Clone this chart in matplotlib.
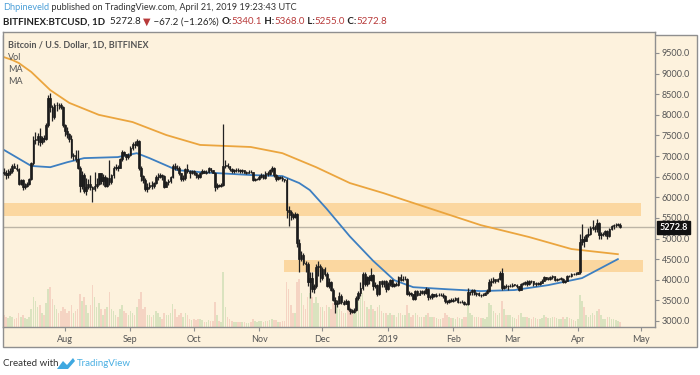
import numpy as np
import pandas as pd
import matplotlib
matplotlib.use("Agg")
import matplotlib.pyplot as plt
import matplotlib.dates as mdates
from matplotlib.patches import Rectangle, Polygon

W, H = 700, 375

# daily BTCUSD, 2018-07-03 .. 2019-04-21 (one row per month)
closes = [
    6600, 6530, 6600, 6630, 6760, 6720, 6680, 6330, 6420, 6260, 6270, 6320, 6450, 6830, 7400, 7400, 7480, 7350, 7440, 7420, 7750, 8420, 8180, 7950, 8240, 8250, 8230, 8200, 7750,
    7600, 7540, 7420, 7010, 7030, 6940, 6720, 6280, 6540, 6150, 6240, 6320, 6250, 6190, 6270, 6320, 6580, 6400, 6500, 6270, 6480, 6370, 6530, 6700, 6730, 6710, 6920, 7090, 7040, 6980, 7030,
    7190, 7290, 7260, 7370, 6700, 6520, 6420, 6190, 6250, 6300, 6280, 6340, 6490, 6500, 6530, 6510, 6260, 6360, 6390, 6500, 6760, 6720, 6710, 6590, 6440, 6470, 6680, 6640, 6600, 6630,
    6590, 6530, 6500, 6590, 6640, 6600, 6610, 6700, 6660, 6600, 6240, 6290, 6280, 6300, 6760, 6790, 6750, 6680, 6640, 6650, 6670, 6650, 6640, 6650, 6600, 6600, 6620, 6610, 6420, 6440, 6450,
    6500, 6530, 6480, 6600, 6570, 6650, 6700, 6550, 6450, 6500, 6480, 6440, 6420, 5700, 5650, 5560, 5530, 5590, 4900, 4500, 4600, 4400, 4380, 3950, 4050, 3780, 3850, 4300, 4330, 4050,
    4250, 4150, 3850, 3950, 3760, 3500, 3400, 3430, 3600, 3460, 3420, 3490, 3280, 3240, 3220, 3260, 3560, 3680, 3800, 4150, 3900, 4060, 4000, 4120, 3850, 3870, 3650, 3960, 3890, 3980, 3770,
    3900, 4000, 3850, 3900, 3870, 4060, 4000, 4020, 4030, 3660, 3680, 3650, 3540, 3720, 3640, 3690, 3720, 3670, 3780, 3580, 3590, 3650, 3600, 3640, 3630, 3640, 3610, 3480, 3450, 3510, 3490,
    3510, 3560, 3450, 3460, 3470, 3410, 3400, 3700, 3700, 3760, 3650, 3670, 3640, 3620, 3640, 3680, 3720, 3950, 3960, 4030, 3960, 4010, 4160, 3800, 3860, 3840, 3850, 3860,
    3880, 3880, 3840, 3760, 3900, 3920, 3940, 3900, 3980, 3960, 3890, 3920, 3900, 3930, 3980, 4060, 4020, 4020, 4060, 4090, 4000, 4020, 4030, 4030, 3950, 3980, 4100, 4090, 4150, 4140, 4150,
    4180, 4920, 4990, 4950, 5080, 5100, 5250, 5290, 5220, 5370, 5080, 5100, 5100, 5180, 5060, 5240, 5300, 5330, 5340, 5340, 5272.8,
]
first_open = 6620

highs = [
    6700, 6650, 6680, 6700, 6800, 6820, 6800, 6700, 6450, 6440, 6350, 6360, 6470, 6850, 7480, 7580, 7550, 7690, 7480, 7500, 7800, 8490, 8530, 8250, 8280, 8300, 8290, 8280, 8220,
    7780, 7700, 7560, 7500, 7080, 7150, 7150, 6750, 6630, 6580, 6480, 6440, 6550, 6270, 6620, 6480, 6600, 6600, 6560, 6550, 6500, 6900, 6560, 6750, 6810, 6780, 6950, 7150, 7130, 7060, 7080,
    7250, 7340, 7360, 7410, 7400, 6760, 6550, 6480, 6350, 6380, 6390, 6370, 6540, 6600, 6580, 6560, 6530, 6400, 6450, 6520, 6800, 6830, 6780, 6750, 6600, 6550, 6700, 6800, 6660, 6650,
    6660, 6620, 6560, 6620, 6680, 6650, 6650, 6740, 6710, 6670, 6610, 6350, 6330, 6350, 7780, 6900, 6820, 6770, 6700, 6690, 6720, 6700, 6690, 6690, 6660, 6640, 6650, 6650, 6620, 6470, 6480,
    6540, 6580, 6560, 6640, 6640, 6680, 6750, 6740, 6560, 6520, 6520, 6510, 6450, 6480, 5800, 5700, 5610, 5640, 5620, 4980, 4700, 4650, 4450, 4420, 4200, 4200, 3900, 4390, 4450, 4380,
    4320, 4300, 4180, 4050, 3970, 3800, 3580, 3500, 3700, 3650, 3500, 3540, 3500, 3320, 3280, 3310, 3600, 3720, 3950, 4200, 4200, 4080, 4120, 4280, 4150, 3950, 3900, 3970, 4000, 4000, 4000,
    3950, 4020, 4010, 3920, 3950, 4100, 4150, 4100, 4080, 4050, 3720, 3700, 3660, 3760, 3760, 3750, 3750, 3740, 3820, 3810, 3630, 3680, 3660, 3680, 3690, 3680, 3680, 3630, 3500, 3540, 3550,
    3550, 3580, 3570, 3490, 3500, 3490, 3440, 3800, 3730, 3780, 3770, 3700, 3700, 3660, 3680, 3700, 3770, 4020, 4050, 4060, 4030, 4040, 4220, 4280, 3880, 3890, 3880, 3900,
    3920, 3900, 3900, 3860, 3920, 3950, 3980, 3990, 4000, 4000, 3970, 3940, 3940, 3960, 4010, 4100, 4070, 4060, 4080, 4120, 4100, 4040, 4050, 4060, 4040, 4000, 4120, 4120, 4170, 4170, 4180,
    4200, 5100, 5350, 5070, 5100, 5250, 5300, 5460, 5320, 5480, 5400, 5150, 5160, 5200, 5200, 5250, 5330, 5360, 5380, 5370, 5368,
]

lows = [
    6550, 6450, 6480, 6530, 6580, 6700, 6630, 6300, 6300, 6180, 6200, 6240, 6300, 6420, 6780, 7300, 7280, 7250, 7300, 7350, 7400, 7700, 8080, 7850, 7900, 8100, 8150, 8130, 7700,
    7480, 7450, 7350, 6950, 6900, 6850, 6680, 6140, 6200, 6100, 6060, 6200, 6180, 5880, 6150, 6230, 6300, 6330, 6300, 6240, 6250, 6300, 6320, 6480, 6650, 6640, 6700, 6880, 6990, 6900, 6930,
    7000, 7150, 7200, 7240, 6650, 6400, 6350, 6150, 6120, 6200, 6200, 6220, 6320, 6420, 6460, 6430, 6230, 6240, 6300, 6350, 6480, 6650, 6650, 6550, 6400, 6400, 6420, 6600, 6480, 6560,
    6540, 6480, 6440, 6460, 6560, 6580, 6560, 6580, 6620, 6580, 6150, 6200, 6250, 6250, 6280, 6700, 6700, 6640, 6580, 6600, 6620, 6610, 6600, 6600, 6580, 6570, 6580, 6580, 6400, 6390, 6410,
    6430, 6460, 6450, 6440, 6520, 6530, 6620, 6500, 6400, 6420, 6440, 6390, 6380, 5500, 5300, 5450, 5480, 5500, 4800, 4200, 4450, 4350, 4200, 3850, 3550, 3700, 3680, 3800, 4100, 3950,
    4000, 4100, 3830, 3800, 3730, 3480, 3200, 3350, 3420, 3400, 3380, 3410, 3260, 3180, 3200, 3200, 3240, 3500, 3600, 3750, 3850, 3850, 3900, 3980, 3760, 3800, 3600, 3620, 3830, 3830, 3700,
    3740, 3850, 3820, 3820, 3840, 3840, 3970, 3960, 3990, 3620, 3600, 3600, 3520, 3520, 3600, 3620, 3660, 3640, 3650, 3520, 3540, 3530, 3580, 3590, 3600, 3600, 3560, 3430, 3400, 3430, 3460,
    3470, 3490, 3430, 3430, 3440, 3380, 3380, 3390, 3640, 3640, 3630, 3600, 3600, 3590, 3600, 3620, 3650, 3700, 3850, 3920, 3910, 3940, 3990, 3750, 3770, 3790, 3760, 3820,
    3830, 3840, 3800, 3720, 3740, 3870, 3880, 3860, 3880, 3920, 3860, 3860, 3870, 3870, 3910, 3960, 4000, 3990, 4000, 4030, 3980, 3980, 3990, 4000, 3920, 3930, 3960, 4060, 4070, 4110, 4120,
    4140, 4150, 4850, 4800, 4930, 5030, 5080, 5200, 5150, 5170, 5000, 5000, 5060, 5050, 5000, 5040, 5200, 5230, 5280, 5300, 5255,
]

volumes = [
    12, 10, 9, 11, 10, 8, 9, 14, 10, 12, 9, 8, 10, 18, 30, 26, 20, 22, 14, 12, 24, 38, 40, 28, 22, 18, 14, 16, 20,
    18, 14, 16, 22, 14, 16, 18, 33, 26, 30, 22, 14, 22, 42, 30, 20, 24, 18, 12, 18, 20, 35, 18, 16, 12, 10, 18, 22, 16, 14, 12,
    16, 14, 12, 20, 28, 35, 18, 20, 12, 12, 10, 12, 16, 14, 10, 8, 14, 12, 12, 14, 23, 18, 10, 12, 14, 10, 14, 12, 8, 7,
    8, 7, 8, 8, 7, 5, 5, 7, 6, 6, 25, 12, 6, 5, 55, 20, 10, 8, 6, 5, 5, 5, 5, 5, 5, 4, 4, 5, 8, 6, 5,
    6, 6, 5, 6, 6, 7, 8, 7, 7, 5, 5, 6, 6, 45, 38, 22, 14, 14, 45, 48, 34, 22, 18, 30, 34, 30, 24, 30, 24, 20,
    20, 16, 22, 20, 18, 24, 30, 22, 18, 16, 14, 14, 18, 20, 16, 14, 26, 28, 30, 34, 26, 20, 18, 22, 18, 16, 20, 22, 16, 14, 14,
    12, 14, 12, 12, 10, 14, 14, 12, 12, 22, 14, 10, 12, 14, 12, 10, 10, 10, 12, 14, 10, 10, 10, 9, 8, 8, 9, 14, 12, 10, 9,
    9, 8, 10, 9, 8, 10, 10, 22, 14, 12, 10, 10, 10, 9, 9, 8, 10, 24, 22, 16, 14, 12, 14, 26, 18, 12, 12, 12,
    10, 9, 8, 12, 14, 10, 10, 10, 9, 8, 10, 9, 8, 8, 9, 12, 10, 9, 9, 10, 10, 9, 8, 8, 10, 8, 10, 9, 8, 7, 6,
    8, 32, 26, 20, 12, 10, 12, 14, 12, 16, 18, 12, 8, 8, 10, 10, 8, 8, 7, 6, 5,
]

# moving averages
ma200_dates = ["2018-07-03", "2018-07-07", "2018-07-10", "2018-07-16", "2018-07-25", "2018-08-03",
               "2018-08-17", "2018-09-02", "2018-09-18", "2018-10-04", "2018-10-28", "2018-11-12",
               "2018-11-28", "2018-12-14", "2018-12-30", "2019-01-09", "2019-02-14", "2019-03-09",
               "2019-03-29", "2019-04-20"]
ma200_vals = [9400, 9330, 9260, 9040, 8600, 8290, 8000, 7825, 7510, 7270, 7220, 7070,
              6730, 6345, 6100, 5930, 5325, 5035, 4745, 4620]

ma50_dates = ["2018-07-03", "2018-07-16", "2018-07-25", "2018-08-02", "2018-08-10", "2018-08-26",
              "2018-09-04", "2018-09-10", "2018-09-23", "2018-10-04", "2018-10-28", "2018-11-12",
              "2018-11-20", "2018-11-25", "2018-12-03", "2018-12-14", "2018-12-25", "2019-01-04",
              "2019-01-13", "2019-01-29", "2019-02-14", "2019-03-02", "2019-03-18", "2019-04-03",
              "2019-04-20"]
ma50_vals = [7150, 6760, 6730, 6850, 6950, 6975, 7070, 6950, 6660, 6610, 6540, 6515,
             6345, 6175, 5720, 5050, 4460, 3990, 3820, 3770, 3725, 3750, 3870, 4040, 4500]

# zones
zone_hi = (5550, 5850, "2018-07-01", "2019-05-01")
zone_lo = (4200, 4470, "2018-11-13", "2019-05-02")

last_price = 5272.8
month_ticks = ["2018-08-01", "2018-09-01", "2018-10-01", "2018-11-01", "2018-12-01",
               "2019-01-01", "2019-02-01", "2019-03-01", "2019-04-01", "2019-05-01"]
month_labels = ["Aug", "Sep", "Oct", "Nov", "Dec", "2019", "Feb", "Mar", "Apr", "May"]

dates = pd.date_range("2018-07-03", "2019-04-21", freq="D")
opens = [first_open] + closes[:-1]

CREAM = "#fdf2dd"
BAND = "#fbd7a0"
FRAME = "#8f8f8f"
TXT = "#555555"
FONT = ["Lato", "DejaVu Sans"]

fig = plt.figure(figsize=(7, 3.75), dpi=100)
fig.patch.set_facecolor("white")


def fx(px):
    return px / W


def fy(py):
    return 1 - py / H


# outer chart frame (price column + time row share cream)
fig.add_artist(Rectangle((fx(3), fy(347)), fx(694), (344 - 32) / H, transform=fig.transFigure,
                         facecolor=CREAM, edgecolor=FRAME, lw=1, zorder=0))

rect = [fx(3), fy(327), fx(652), (327 - 32) / H]
axv = fig.add_axes(rect)
ax = fig.add_axes(rect, sharex=axv)
axv.set_facecolor(CREAM)
ax.patch.set_alpha(0)

x = mdates.date2num(dates)
x0 = mdates.date2num(pd.Timestamp("2018-08-01"))
ax.set_xlim(x0 - 29.4, x0 + 279.6)
ax.set_ylim(2854, 10009)

# volume
vcol = ["#cfdfb6" if c >= o else "#f3cbbb" for o, c in zip(opens, closes)]
axv.bar(x, volumes, width=0.75, color=vcol, alpha=0.75)
axv.set_ylim(0, 295)
axv.set_yticks([])
axv.tick_params(axis="x", which="both", bottom=False, labelbottom=False)
for s in axv.spines.values():
    s.set_visible(False)

# zones
for lo, hi, d0, d1 in (zone_hi, zone_lo):
    a = mdates.date2num(pd.Timestamp(d0))
    b = mdates.date2num(pd.Timestamp(d1))
    ax.add_patch(Rectangle((a, lo), b - a, hi - lo, facecolor=BAND, edgecolor="none", zorder=1))

ax.axhline(last_price, color="#bdb5a6", lw=1, zorder=1.5)

# moving averages
ax.plot(mdates.date2num(pd.to_datetime(ma200_dates)), ma200_vals, color="#eba53e", lw=1.3, zorder=2)
ax.plot(mdates.date2num(pd.to_datetime(ma50_dates)), ma50_vals, color="#3d7fc1", lw=1.3, zorder=2)

# candles
ax.vlines(x, lows, highs, color="#222222", lw=0.9, zorder=3)
body_lo = np.minimum(opens, closes)
body_h = np.maximum(np.abs(np.array(closes) - np.array(opens)), 8)
ax.bar(x, body_h, bottom=body_lo, width=0.8, color="#1c1c1c", edgecolor="#1c1c1c", lw=0.5, zorder=4)

# axes styling
ax.yaxis.tick_right()
ax.set_yticks(np.arange(3000, 9501, 500))
ax.set_yticklabels([f"{v:.1f}" for v in np.arange(3000, 9501, 500)])
ax.set_xticks(mdates.date2num(pd.to_datetime(month_ticks)))
ax.set_xticklabels(month_labels)
ax.tick_params(axis="y", direction="out", length=3, width=0.8, color=FRAME, labelsize=6.5,
               labelcolor=TXT, pad=2)
ax.tick_params(axis="x", direction="out", length=3, width=0.8, color=FRAME, labelsize=6.5,
               labelcolor=TXT, pad=3)
for lab in ax.get_xticklabels() + ax.get_yticklabels():
    lab.set_family(FONT)
for name, s in ax.spines.items():
    s.set_color(FRAME)
    s.set_linewidth(1)

# last price tag
ax.annotate(f"{last_price:.1f}", xy=(1.0, last_price), xycoords=("axes fraction", "data"),
            xytext=(3, 0), textcoords="offset points", ha="left", va="center",
            fontsize=6.5, color="white", weight="bold", family=FONT,
            bbox=dict(boxstyle="square,pad=0.25", fc="#111111", ec="#111111"))

# legend block inside chart
fig.text(fx(8), fy(45), "Bitcoin / U.S. Dollar, 1D, BITFINEX", fontsize=6.5, color=TXT,
         weight="bold", family=FONT, va="center")
for py, s in ((57, "Vol"), (69, "MA"), (81, "MA")):
    fig.text(fx(8), fy(py), s, fontsize=6.5, color=TXT, family=FONT, va="center")


def seq(px, py, pieces, size):
    r = fig.canvas.get_renderer()
    cur = px
    for s, col, wt in pieces:
        t = fig.text(fx(cur), fy(py), s, fontsize=size, color=col, weight=wt, family=FONT, va="center")
        cur += t.get_window_extent(r).width


RED = "#b83a3a"
DARK = "#222222"
seq(3, 8, [("Dhpineveld", "#4b9fd8", "normal"),
           (" published on TradingView.com, April 21, 2019 19:23:43 UTC", "#333333", "normal")], 6.6)
seq(3, 22, [("BITFINEX:BTCUSD, 1D", DARK, "bold"), ("  5272.8 ", DARK, "normal"),
            ("\u25bc", RED, "normal"), (" \u221267.2 (\u22121.26%) ", DARK, "normal"),
            ("O:", DARK, "bold"), ("5340.1", RED, "normal"), (" H:", DARK, "bold"),
            ("5368.0", RED, "normal"), (" L:", DARK, "bold"), ("5255.0", RED, "normal"),
            (" C:", DARK, "bold"), ("5272.8", RED, "normal")], 7.0)

# footer
fig.text(fx(3), fy(364), "Created with", fontsize=7.0, color="#333333", family=FONT, va="center")
fig.add_artist(Polygon([(fx(57), fy(369)), (fx(63), fy(361)), (fx(67), fy(365)), (fx(73), fy(358)),
                        (fx(75), fy(361)), (fx(68), fy(369))], closed=True, transform=fig.transFigure,
                       facecolor="#3fa8e0", edgecolor="none"))
fig.text(fx(77), fy(364), "TradingView", fontsize=7.0, color="#4bb0e3", family=FONT, va="center")

fig.savefig("out.png", dpi=100, facecolor="white")
